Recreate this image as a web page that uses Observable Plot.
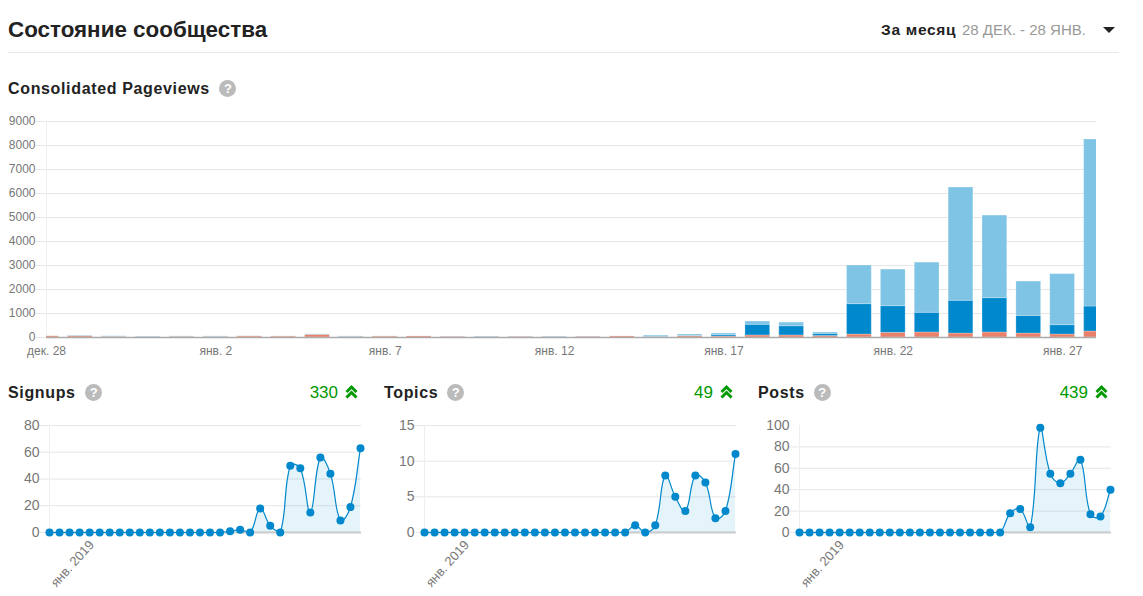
<!DOCTYPE html>
<html lang="ru">
<head>
<meta charset="utf-8">
<script src="https://cdn.jsdelivr.net/npm/d3@7"></script>
<script src="https://cdn.jsdelivr.net/npm/@observablehq/plot@0.6"></script>
<style>
html,body{margin:0;padding:0;background:#fff;overflow:hidden;width:1143px;height:596px;font-family:"Liberation Sans",Arial,sans-serif;color:#222}
.abs{position:absolute;white-space:nowrap}
.title{left:8px;top:16px;font-size:22.4px;font-weight:bold;line-height:27px;color:#222}
.rule{left:8px;top:52px;width:1111px;height:1px;background:#e9e9e9}
.period{left:881px;top:20px;font-size:15px;line-height:20px;color:#999}
.period b{color:#222;font-size:15.5px;letter-spacing:.7px;margin-right:1.5px}
.caret{left:1103px;top:27px;width:0;height:0;border-left:6px solid transparent;border-right:6px solid transparent;border-top:6px solid #222}
.h{font-size:16px;font-weight:bold;line-height:20px;color:#222;letter-spacing:.65px;display:flex;align-items:center}
.q{display:inline-block;width:17px;height:17px;border-radius:50%;background:#bbb;color:#fff;font-size:13px;font-weight:bold;line-height:17px;text-align:center;letter-spacing:0;position:relative;top:-1px}
.val{font-size:17px;line-height:20px;color:#090;text-align:right}
.chev{position:absolute}
#root svg{position:absolute;overflow:visible;background:transparent}
</style>
</head>
<body>
<div class="abs title">Состояние сообщества</div>
<div class="abs rule"></div>
<div class="abs period"><b>За месяц</b> 28 ДЕК. - 28 ЯНВ.</div>
<div class="abs caret"></div>
<div class="abs h" style="left:8px;top:79px">Consolidated Pageviews<span class="q" style="margin-left:9.5px">?</span></div>
<div id="root"></div>
<script>
const days = d3.range(32);
const mainTicks = [0, 5, 10, 15, 20, 25, 30];
const mainTickLabels = ["дек. 28", "янв. 2", "янв. 7", "янв. 12", "янв. 17", "янв. 22", "янв. 27"];
const yMainTicks = [0, 1000, 2000, 3000, 4000, 5000, 6000, 7000, 8000, 9000];
const pvRed = [50,55,25,10,25,20,45,40,110,15,40,45,25,15,25,15,30,45,15,55,40,85,85,60,125,195,210,165,210,165,125,250];
const pvDark = [0,0,0,0,0,0,0,0,0,0,0,0,0,0,0,0,0,0,15,10,60,445,385,90,1265,1110,820,1365,1430,735,390,1040];
const pvLight = [0,20,25,25,20,25,5,5,20,30,5,0,10,25,10,25,10,0,50,60,65,135,150,60,1610,1525,2090,4720,3440,1430,2125,6960];
const signups = [0,0,0,0,0,0,0,0,0,0,0,0,0,0,0,0,0,0,1,2,0,18,5,0,50,48,15,56,44,9,19,63];
const topics = [0,0,0,0,0,0,0,0,0,0,0,0,0,0,0,0,0,0,0,0,0,1,0,1,8,5,3,8,7,2,3,11];
const posts = [0,0,0,0,0,0,0,0,0,0,0,0,0,0,0,0,0,0,0,0,0,18,22,5,98,55,46,55,68,17,15,40];

const BLUE = "#0088cc", GRID = "#e6e6e6", TXT = "#777";
const root = document.getElementById("root");

function place(svg, left, top) {
  svg.style.left = left + "px";
  svg.style.top = top + "px";
  root.appendChild(svg);
}

// Spline in the style of the source chart: distance-weighted control points, capped to the plot area
function cappedSpline(tension, yMin, yMax) {
  return function (context) {
    let line, pts;
    const clampY = y => Math.max(yMin, Math.min(yMax, y));
    return {
      areaStart() { line = 0; },
      areaEnd() { line = NaN; },
      lineStart() { pts = []; },
      point(x, y) { pts.push([+x, +y]); },
      lineEnd() {
        const n = pts.length;
        const ctrl = pts.map((p, i) => {
          const a = pts[Math.max(i - 1, 0)], b = pts[Math.min(i + 1, n - 1)];
          const d01 = Math.hypot(p[0] - a[0], p[1] - a[1]);
          const d12 = Math.hypot(b[0] - p[0], b[1] - p[1]);
          const sum = d01 + d12 || 1;
          const fa = tension * d01 / sum, fb = tension * d12 / sum;
          return {
            c1: [p[0] - fa * (b[0] - a[0]), clampY(p[1] - fa * (b[1] - a[1]))],
            c2: [p[0] + fb * (b[0] - a[0]), clampY(p[1] + fb * (b[1] - a[1]))]
          };
        });
        pts.forEach((p, i) => {
          if (i === 0) {
            if (line) context.lineTo(p[0], p[1]); else context.moveTo(p[0], p[1]);
          } else {
            context.bezierCurveTo(ctrl[i - 1].c2[0], ctrl[i - 1].c2[1], ctrl[i].c1[0], ctrl[i].c1[1], p[0], p[1]);
          }
        });
        if (line) context.closePath();
        line = 1 - line;
      }
    };
  };
}

// Main stacked chart
const stackRows = days.flatMap(d => [
  {d, series: "red", y1: 0, y2: pvRed[d]},
  {d, series: "dark", y1: pvRed[d], y2: pvRed[d] + pvDark[d]},
  {d, series: "light", y1: pvRed[d] + pvDark[d], y2: pvRed[d] + pvDark[d] + pvLight[d]}
]).filter(r => r.y2 > r.y1);
const halfBar = 0.365;
place(Plot.plot({
  width: 1143, height: 250,
  marginLeft: 46, marginRight: 47, marginTop: 11, marginBottom: 23,
  style: {fontFamily: "'Liberation Sans',Arial,sans-serif", fontSize: "12px", color: TXT, background: "transparent"},
  x: {domain: [0, 31]},
  y: {domain: [0, 9000]},
  color: {domain: ["red", "dark", "light"], range: ["#e9806a", BLUE, "#7fc3e5"]},
  marks: [
    Plot.ruleY(yMainTicks.slice(1), {stroke: GRID, strokeWidth: 1}),
    Plot.ruleX([0], {stroke: "#eeeeee", strokeWidth: 1}),
    Plot.axisY({ticks: yMainTicks, tickSize: 10, tickPadding: 1, stroke: GRID, strokeOpacity: 1, label: null, color: TXT, tickFormat: d => String(d), fontSize: 12}),
    Plot.rect(stackRows, {
      x1: r => r.d - halfBar, x2: r => r.d + halfBar, y1: "y1", y2: "y2",
      fill: "series", stroke: "#fff", strokeOpacity: 0.25, strokeWidth: 1, clip: true
    }),
    Plot.ruleY([0], {stroke: "#aaaaaa", strokeWidth: 1.5}),
    Plot.axisX({ticks: mainTicks, tickSize: 0, tickPadding: 9, label: null, color: TXT, fontSize: 12,
      tickFormat: d => mainTickLabels[mainTicks.indexOf(d)]})
  ]
}), 0, 110);

// Small charts
const small = [
  {name: "Signups", values: signups, total: 330, left: 49, yMax: 80, ticks: [0, 20, 40, 60, 80], grid: [20, 40, 60, 80], titleLeft: 8, valRight: 338, qGap: 9.5},
  {name: "Topics", values: topics, total: 49, left: 424, yMax: 15, ticks: [0, 5, 10, 15], grid: [5, 10, 15], titleLeft: 384, valRight: 713, qGap: 9},
  {name: "Posts", values: posts, total: 439, left: 799, yMax: 100, ticks: [0, 20, 40, 60, 80, 100], grid: [20, 40, 60, 80], titleLeft: 758, valRight: 1088, qGap: 9}
];
const smallH = 190, smallTop = 15, smallBottom = 68;
const curve = cappedSpline(0.4, smallTop, smallH - smallBottom);
for (const c of small) {
  const rows = days.map(d => ({d, v: c.values[d]}));
  const svg = Plot.plot({
    width: 360, height: smallH,
    marginLeft: 49, marginRight: 0, marginTop: smallTop, marginBottom: smallBottom,
    style: {fontFamily: "'Liberation Sans',Arial,sans-serif", fontSize: "14px", color: TXT, background: "transparent"},
    x: {domain: [0, 31]},
    y: {domain: [0, c.yMax]},
    marks: [
      Plot.ruleY(c.grid, {stroke: GRID, x1: -1, x2: 31.1}),
      Plot.ruleX([0], {stroke: "#eeeeee"}),
      Plot.axisY({ticks: c.ticks, tickSize: 0, tickPadding: 10, label: null, color: TXT, fontSize: 14, tickFormat: d => String(d)}),
      Plot.ruleY([0], {stroke: GRID, x1: -1, x2: 0}),
      Plot.ruleY([0], {stroke: "#cccccc", strokeWidth: 2, x1: 0, x2: 31.1}),
      Plot.areaY(rows, {x: "d", y: "v", fill: BLUE, fillOpacity: 0.1, curve}),
      Plot.lineY(rows, {x: "d", y: "v", stroke: BLUE, strokeWidth: 1.2, curve}),
      Plot.dot(rows, {x: "d", y: "v", r: 4, fill: BLUE}),
      Plot.axisX({ticks: [4], tickSize: 0, tickPadding: 8, tickRotate: -48, dx: 2, dy: 2, label: null, color: TXT, fontSize: 13, tickFormat: () => "янв. 2019"})
    ]
  });
  place(svg, c.left - 49, 410);

  const h = document.createElement("div");
  h.className = "abs h";
  h.style.left = c.titleLeft + "px";
  h.style.top = "383px";
  h.innerHTML = c.name + '<span class="q" style="margin-left:' + c.qGap + 'px">?</span>';
  root.appendChild(h);

  const val = document.createElement("div");
  val.className = "abs val";
  val.style.right = (1143 - c.valRight) + "px";
  val.style.top = "383px";
  val.textContent = c.total;
  root.appendChild(val);

  const chev = d3.create("svg").attr("class", "chev").attr("width", 13).attr("height", 14).attr("viewBox", "0 0 13 14");
  chev.selectAll("path").data(["M1.5 7 L6.5 2 L11.5 7", "M1.5 12.5 L6.5 7.5 L11.5 12.5"]).join("path")
    .attr("d", p => p).attr("fill", "none").attr("stroke", "#090").attr("stroke-width", 3);
  const n = chev.node();
  n.style.left = (c.valRight + 7) + "px";
  n.style.top = "385px";
  root.appendChild(n);
}
</script>
</body>
</html>
